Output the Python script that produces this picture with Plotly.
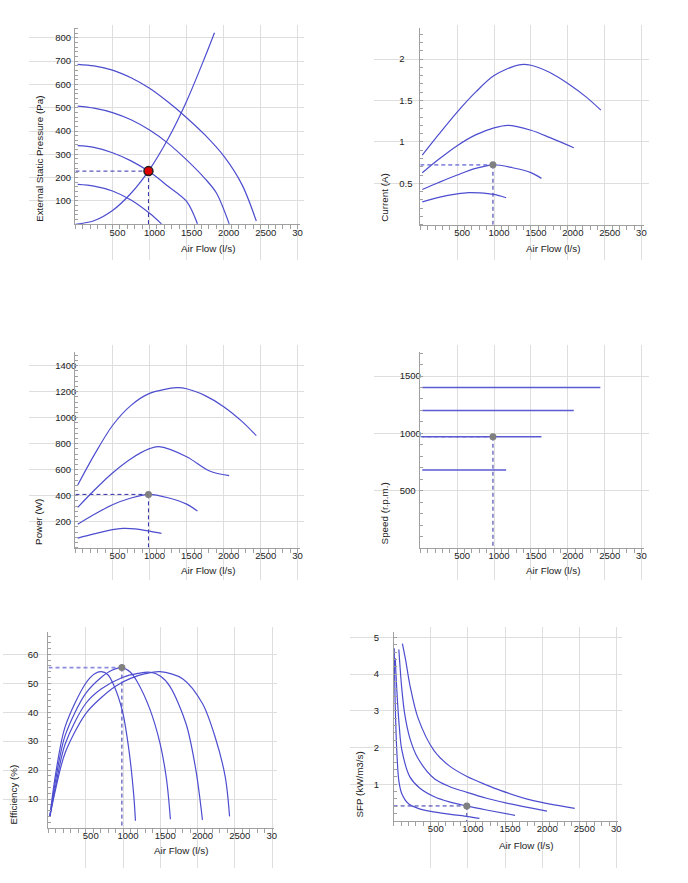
import plotly.graph_objects as go

W, H = 688, 883
CURVE = '#4d4dd0'
DASH = '#2f2fa8'
DASH_LIGHT = '#8c8ce0'
GRID = '#dedede'
AXIS = '#a0a0a0'
TXT = '#222222'
FONT = 'Liberation Sans, Arial, sans-serif'

# ---------------- data ----------------
flow_ticks = [500, 1000, 1500, 2000, 2500, 3000]
flow_ticktext = ['500', '1000', '1500', '2000', '2500', '30\u00a0\u00a0\u00a0\u00a0']

# Operating point
op_flow = 985
op_pressure = 228
op_current = 0.724
op_power = 410
op_speed = 970
op_efficiency = 55.4
op_sfp = 0.41

# External static pressure (Pa)
pres_flow_1400 = [30, 250, 500, 750, 1000, 1250, 1500, 1750, 2000, 2250, 2440]
pres_1400 = [686, 679, 661, 628, 583, 524, 457, 382, 293, 168, 14]
pres_flow_1200 = [30, 250, 500, 750, 1000, 1250, 1500, 1750, 1900, 2074]
pres_1200 = [507, 498, 479, 448, 404, 347, 276, 195, 135, 2]
pres_flow_970 = [30, 250, 500, 750, 985, 1250, 1500, 1646]
pres_970 = [337, 330, 307, 272, 228, 163, 98, 2]
pres_flow_680 = [30, 250, 500, 750, 1000, 1160]
pres_680 = [171, 164, 143, 104, 47, 2]
sys_flow = [0, 250, 500, 750, 985, 1250, 1500, 1750, 1876]
sys_pres = [0, 15, 59, 133, 228, 367, 528, 719, 821]

# Current (A)
cur_flow_1400 = [27, 250, 500, 750, 1000, 1340, 1500, 1750, 2000, 2250, 2447]
cur_1400 = [0.84, 1.09, 1.36, 1.6, 1.8, 1.93, 1.925, 1.84, 1.705, 1.54, 1.383]
cur_flow_1200 = [27, 250, 500, 750, 1000, 1190, 1500, 1750, 2080]
cur_1200 = [0.627, 0.79, 0.955, 1.085, 1.17, 1.2, 1.14, 1.055, 0.93]
cur_flow_970 = [27, 250, 500, 750, 985, 1250, 1500, 1642]
cur_970 = [0.426, 0.51, 0.6, 0.68, 0.724, 0.688, 0.63, 0.56]
cur_flow_680 = [27, 250, 500, 655, 800, 1000, 1164]
cur_680 = [0.277, 0.33, 0.372, 0.388, 0.385, 0.366, 0.326]

# Power (W)
pow_flow_1400 = [31, 250, 500, 750, 1000, 1368, 1500, 1750, 2000, 2250, 2440]
pow_1400 = [482, 710, 940, 1095, 1187, 1231, 1223, 1170, 1085, 970, 862]
pow_flow_1200 = [31, 250, 500, 750, 1000, 1125, 1500, 1809, 2074]
pow_1200 = [310, 440, 575, 685, 762, 777, 700, 590, 554]
pow_flow_970 = [31, 250, 500, 750, 985, 1250, 1500, 1646]
pow_970 = [180, 255, 330, 382, 410, 384, 335, 282]
pow_flow_680 = [31, 250, 500, 640, 800, 1000, 1160]
pow_680 = [74, 106, 139, 148, 145, 128, 110]

# Speed (r.p.m.)
spd_flow_1400 = [27, 2440]
spd_1400 = [1400, 1400]
spd_flow_1200 = [27, 2080]
spd_1200 = [1200, 1200]
spd_flow_970 = [27, 1642]
spd_970 = [970, 970]
spd_flow_680 = [27, 1164]
spd_680 = [680, 680]

# Efficiency (%)
eff_flow_1400 = [18, 92, 224, 500, 706, 900, 1101, 1300, 1496, 1803, 2066, 2241, 2373, 2430]
eff_1400 = [3.9, 13, 26, 39.5, 45, 49, 51.7, 53.3, 54, 51.5, 43, 31, 17.5, 4]
eff_flow_1200 = [18, 92, 224, 500, 706, 991, 1200, 1364, 1500, 1627, 1846, 1978, 2066]
eff_1200 = [3.9, 14, 29, 43, 48, 52, 53.4, 53.8, 52.5, 49, 36, 20, 2.8]
eff_flow_970 = [18, 92, 224, 500, 706, 850, 982, 1100, 1189, 1364, 1496, 1583, 1636]
eff_970 = [3.9, 16, 32, 46.5, 52, 54.5, 55.4, 53.8, 50.6, 40.8, 29.3, 17, 3]
eff_flow_680 = [18, 92, 224, 500, 620, 706, 794, 882, 991, 1079, 1145, 1167]
eff_680 = [3.9, 18, 35, 50, 53.3, 54, 53, 49, 40.5, 27, 11, 2.5]

# SFP (kW/m3/s)
sfp_flow_1400 = [118, 160, 219, 329, 549, 750, 988, 1250, 1427, 1867, 2438]
sfp_1400 = [4.83, 4.4, 3.7, 2.8, 1.9, 1.5, 1.21, 0.98, 0.84, 0.56, 0.345]
sfp_flow_1200 = [70, 110, 150, 219, 329, 549, 750, 988, 1250, 1427, 1750, 2064]
sfp_1200 = [4.67, 3.6, 2.9, 2.25, 1.7, 1.15, 0.94, 0.78, 0.62, 0.53, 0.39, 0.27]
sfp_flow_970 = [22, 45, 75, 109, 219, 350, 549, 750, 980, 1250, 1635]
sfp_970 = [4.43, 3.5, 2.6, 1.95, 1.2, 0.9, 0.66, 0.52, 0.41, 0.3, 0.154]
sfp_flow_680 = [8, 20, 43, 70, 109, 200, 329, 500, 769, 1000, 1155]
sfp_680 = [4.7, 3.3, 1.9, 1.1, 0.75, 0.47, 0.345, 0.26, 0.18, 0.12, 0.07]

# ---------------- panels ----------------
panels = [
    dict(curves=[(pres_flow_1400, pres_1400), (pres_flow_1200, pres_1200),
                 (pres_flow_970, pres_970), (pres_flow_680, pres_680), (sys_flow, sys_pres)],
         op=op_pressure, red=True, hdash=DASH, cstyle=(CURVE, 1.2),
         yticks=[100, 200, 300, 400, 500, 600, 700, 800], yminor=20,
         x0=77, x3000=304, xend=306, y0=224.3, yref=(800, 37.7), ytop=28,
         gx=(30, 310), gy=(25, 260), ylab=57.3,
         xtitle=(212, 248), ytitle=(40.7, 224), title='External Static Pressure (Pa)'),
    dict(curves=[(cur_flow_1400, cur_1400), (cur_flow_1200, cur_1200),
                 (cur_flow_970, cur_970), (cur_flow_680, cur_680)],
         op=op_current, red=False, hdash=DASH_LIGHT, cstyle=(CURVE, 1.2),
         yticks=[0.5, 1, 1.5, 2], yminor=0.1,
         x0=429, x3000=655, xend=657, y0=224.8, yref=(2, 59), ytop=28,
         gx=(382, 662), gy=(25, 260), ylab=408.5,
         xtitle=(564, 248), ytitle=(392.7, 224), title='Current (A)'),
    dict(curves=[(pow_flow_1400, pow_1400), (pow_flow_1200, pow_1200),
                 (pow_flow_970, pow_970), (pow_flow_680, pow_680)],
         op=op_power, red=False, hdash=DASH, cstyle=(CURVE, 1.2),
         yticks=[200, 400, 600, 800, 1000, 1200, 1400], yminor=40,
         x0=77, x3000=304, xend=306, y0=547.7, yref=(1400, 365.7), ytop=351.7,
         gx=(30, 310), gy=(345, 580), ylab=57.3,
         xtitle=(212, 570.7), ytitle=(40, 546.7), title='Power (W)'),
    dict(curves=[(spd_flow_1400, spd_1400), (spd_flow_1200, spd_1200),
                 (spd_flow_970, spd_970), (spd_flow_680, spd_680)],
         op=op_speed, red=False, hdash=DASH, cstyle=('#5a5ad3', 1.5),
         yticks=[500, 1000, 1500], yminor=100,
         x0=429, x3000=655, xend=657, y0=548, yref=(1500, 376), ytop=351.7,
         gx=(382, 662), gy=(345, 580), ylab=409,
         xtitle=(564, 570), ytitle=(392.7, 546.7), title='Speed (r.p.m.)'),
    dict(curves=[(eff_flow_1400, eff_1400), (eff_flow_1200, eff_1200),
                 (eff_flow_970, eff_970), (eff_flow_680, eff_680)],
         op=op_efficiency, red=False, hdash=DASH_LIGHT, cstyle=(CURVE, 1.2),
         yticks=[10, 20, 30, 40, 50, 60], yminor=2,
         x0=49.5, x3000=277.7, xend=279.3, y0=828, yref=(60, 654.3), ytop=631.7,
         gx=(3, 283), gy=(627, 868), ylab=29.3,
         xtitle=(185, 850.7), ytitle=(14, 826.7), title='Efficiency (%)'),
    dict(curves=[(sfp_flow_1400, sfp_1400), (sfp_flow_1200, sfp_1200),
                 (sfp_flow_970, sfp_970), (sfp_flow_680, sfp_680)],
         op=op_sfp, red=False, hdash=DASH, cstyle=(CURVE, 1.2),
         yticks=[1, 2, 3, 4, 5], yminor=0.2,
         x0=401.8, x3000=629.3, xend=631, y0=821, yref=(5, 637.3), ytop=631.7,
         gx=(357, 635), gy=(627, 868), ylab=382.5,
         xtitle=(537, 845), ytitle=(366, 820), title='SFP (kW/m3/s)'),
]

fig = go.Figure()
layout = {}
annotations = []
tickfont = dict(family=FONT, size=9.5, color=TXT)
titlefont = dict(family=FONT, size=9.8, color=TXT)

n = len(panels)
for i, p in enumerate(panels):
    gi = i + 1          # grid axes id
    di = i + 1 + n      # data axes id
    xs = 3000.0 / (p['x3000'] - p['x0'])            # value per px (x)
    ys = p['yref'][0] / (p['y0'] - p['yref'][1])    # value per px (y)

    # grid (extended) axes, carrying the y tick labels
    layout['xaxis%d' % gi] = dict(
        domain=[p['gx'][0] / W, p['gx'][1] / W],
        range=[(p['gx'][0] - p['x0']) * xs, (p['gx'][1] - p['x0']) * xs],
        anchor='y%d' % gi, tickmode='array', tickvals=flow_ticks,
        showticklabels=False, ticks='', showgrid=True, gridcolor=GRID, gridwidth=1,
        zeroline=False, showline=False, fixedrange=True)
    layout['yaxis%d' % gi] = dict(
        domain=[1 - p['gy'][1] / H, 1 - p['gy'][0] / H],
        range=[(p['y0'] - p['gy'][1]) * ys, (p['y0'] - p['gy'][0]) * ys],
        anchor='free', position=(p['ylab'] - 2) / W, side='right',
        tickmode='array', tickvals=p['yticks'], ticktext=[('%g' % v) for v in p['yticks']],
        tickfont=tickfont, ticks='', showgrid=True, gridcolor=GRID, gridwidth=1,
        zeroline=False, showline=False, fixedrange=True)
    fig.add_trace(go.Scatter(x=[None], y=[None], xaxis='x%d' % gi, yaxis='y%d' % gi,
                             showlegend=False, hoverinfo='skip'))

    # data axes
    layout['xaxis%d' % di] = dict(
        domain=[p['x0'] / W, p['xend'] / W],
        range=[0, (p['xend'] - p['x0']) * xs],
        anchor='y%d' % di, tickmode='array', tickvals=flow_ticks, ticktext=flow_ticktext,
        tickfont=tickfont, ticks='', ticklabelshift=5, ticklabelstandoff=-1,
        showgrid=False, zeroline=False, showline=True, linecolor=AXIS, linewidth=1,
        minor=dict(tickmode='linear', tick0=0, dtick=100, ticks='outside', ticklen=4,
                   tickcolor=AXIS, showgrid=False),
        fixedrange=True)
    layout['yaxis%d' % di] = dict(
        domain=[1 - p['y0'] / H, 1 - p['ytop'] / H],
        range=[0, (p['y0'] - p['ytop']) * ys],
        anchor='x%d' % di, showticklabels=False, ticks='',
        tickmode='array', tickvals=p['yticks'],
        showgrid=False, zeroline=False, showline=True, linecolor=AXIS, linewidth=1,
        minor=dict(tickmode='linear', tick0=0, dtick=p['yminor'], ticks='inside', ticklen=3,
                   tickcolor=AXIS, showgrid=False),
        fixedrange=True)

    xa, ya = 'x%d' % di, 'y%d' % di
    # dashed guide lines to the operating point
    hw = 1.8 if p['hdash'] == DASH_LIGHT else 1
    fig.add_trace(go.Scatter(x=[0, op_flow], y=[p['op'], p['op']],
                             mode='lines', line=dict(color=p['hdash'], width=hw, dash='4px,3px'),
                             xaxis=xa, yaxis=ya, showlegend=False, hoverinfo='skip'))
    fig.add_trace(go.Scatter(x=[op_flow, op_flow], y=[p['op'], 0],
                             mode='lines', line=dict(color=DASH, width=1, dash='4px,3px'),
                             xaxis=xa, yaxis=ya, showlegend=False, hoverinfo='skip'))
    for cx, cy in p['curves']:
        fig.add_trace(go.Scatter(x=cx, y=cy, mode='lines',
                                 line=dict(color=p['cstyle'][0], width=p['cstyle'][1],
                                           shape='spline', smoothing=0.9),
                                 xaxis=xa, yaxis=ya, showlegend=False, hoverinfo='skip'))
    if p['red']:
        mk = dict(color='#e00000', size=9, line=dict(color='#202020', width=1.5))
    else:
        mk = dict(color='#808080', size=7, line=dict(width=0))
    fig.add_trace(go.Scatter(x=[op_flow], y=[p['op']], mode='markers', marker=mk,
                             xaxis=xa, yaxis=ya, showlegend=False, hoverinfo='skip',
                             cliponaxis=False))

    annotations.append(dict(text='Air Flow (l/s)', xref='paper', yref='paper',
                            x=p['xtitle'][0] / W, y=1 - p['xtitle'][1] / H,
                            xanchor='center', yanchor='middle', showarrow=False,
                            font=titlefont))
    annotations.append(dict(text=p['title'], xref='paper', yref='paper',
                            x=p['ytitle'][0] / W, y=1 - p['ytitle'][1] / H,
                            xanchor='center', yanchor='bottom', textangle=-90,
                            showarrow=False, font=titlefont))

fig.update_layout(**layout)
fig.update_layout(width=W, height=H, margin=dict(l=0, r=0, t=0, b=0),
                  paper_bgcolor='white', plot_bgcolor='rgba(0,0,0,0)',
                  showlegend=False, annotations=annotations,
                  font=dict(family=FONT, size=9.5, color=TXT))

fig.write_html('out.html')
